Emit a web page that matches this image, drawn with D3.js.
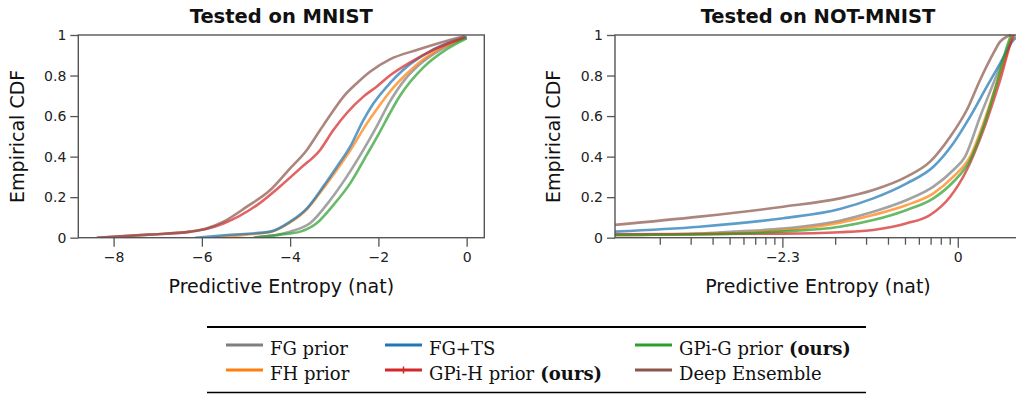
<!DOCTYPE html>
<html><head><meta charset="utf-8">
<script src="https://cdn.jsdelivr.net/npm/d3@7"></script>
<style>html,body{margin:0;padding:0;background:#fff;}svg{display:block;}</style>
</head><body>
<svg id="c" width="1016" height="394"></svg>
<script>
// ---------- DATA ----------
const seriesNames = ["FG prior", "FH prior", "FG+TS", "GPi-H prior", "GPi-G prior", "Deep Ensemble"];
const seriesColors = ["#7f7f7f", "#ff7f0e", "#1f77b4", "#d62728", "#2ca02c", "#8c564b"];

// Left panel: Tested on MNIST  ([x, cdf])
const mnistFG   = [[-4.83,0],[-4.0,0.03],[-3.55,0.071],[-3.09,0.186],[-2.72,0.30],[-2.34,0.433],[-2.04,0.548],[-1.74,0.671],[-1.4,0.78],[-1.06,0.855],[-0.53,0.935],[0,0.99]];
const mnistFH   = [[-5.77,0],[-5.0,0.015],[-4.45,0.028],[-4.0,0.075],[-3.62,0.14],[-3.25,0.243],[-2.94,0.335],[-2.64,0.43],[-2.26,0.564],[-2.0,0.645],[-1.74,0.72],[-1.4,0.80],[-0.95,0.885],[-0.45,0.95],[0,0.985]];
const mnistTS   = [[-6.15,0],[-5.5,0.012],[-4.45,0.03],[-4.0,0.079],[-3.62,0.145],[-3.25,0.252],[-2.94,0.35],[-2.64,0.449],[-2.34,0.58],[-2.11,0.663],[-1.74,0.762],[-1.44,0.827],[-0.98,0.90],[-0.45,0.959],[0,0.99]];
const mnistGPiH = [[-8.38,0],[-7.2,0.015],[-6.26,0.03],[-5.9,0.043],[-5.51,0.07],[-4.75,0.161],[-4.15,0.268],[-3.77,0.342],[-3.32,0.433],[-3.02,0.531],[-2.72,0.614],[-2.34,0.696],[-2.04,0.745],[-1.74,0.80],[-1.28,0.865],[-0.72,0.93],[-0.04,0.989]];
const mnistGPiG = [[-4.83,0],[-4.22,0.015],[-3.77,0.03],[-3.40,0.071],[-3.02,0.161],[-2.64,0.268],[-2.26,0.41],[-1.96,0.525],[-1.74,0.614],[-1.51,0.70],[-0.98,0.84],[-0.45,0.93],[0,0.984]];
const mnistDE   = [[-8.38,0],[-7.2,0.015],[-6.26,0.03],[-5.9,0.045],[-5.51,0.079],[-4.98,0.153],[-4.45,0.235],[-4.0,0.342],[-3.62,0.433],[-3.32,0.531],[-3.09,0.605],[-2.79,0.696],[-2.49,0.762],[-2.19,0.819],[-1.74,0.88],[-1.13,0.926],[-0.6,0.962],[-0.04,0.995]];

// Right panel: Tested on NOT-MNIST  ([ln entropy, cdf])
const notFG   = [[-4.5,0.013],[-3.4,0.02],[-2.95,0.03],[-2.3,0.045],[-1.547,0.084],[-1.109,0.128],[-0.67,0.186],[-0.32,0.252],[-0.058,0.334],[0.096,0.40],[0.293,0.597],[0.468,0.762],[0.644,0.926],[0.71,0.99],[0.73,1]];
const notFH   = [[-4.5,0.013],[-3.4,0.018],[-2.34,0.035],[-1.547,0.074],[-1.109,0.112],[-0.67,0.161],[-0.32,0.219],[-0.058,0.301],[0.162,0.40],[0.336,0.564],[0.512,0.762],[0.687,0.959],[0.72,1]];
const notTS   = [[-4.5,0.03],[-3.39,0.054],[-2.29,0.096],[-1.547,0.142],[-1.109,0.194],[-0.67,0.268],[-0.32,0.35],[-0.058,0.466],[0.162,0.597],[0.381,0.745],[0.556,0.86],[0.73,0.975],[0.83,1]];
const notGPiH = [[-4.5,0.017],[-2.3,0.02],[-1.547,0.027],[-1.109,0.038],[-0.67,0.071],[-0.364,0.112],[-0.10,0.202],[0.118,0.334],[0.336,0.531],[0.556,0.778],[0.73,0.99],[0.75,1]];
const notGPiG = [[-4.5,0.013],[-3.4,0.016],[-2.34,0.03],[-1.547,0.054],[-1.109,0.087],[-0.67,0.137],[-0.32,0.194],[-0.058,0.276],[0.162,0.383],[0.336,0.548],[0.512,0.762],[0.66,0.96],[0.7,1]];
const notDE   = [[-4.5,0.063],[-3.39,0.104],[-2.29,0.153],[-1.547,0.194],[-1.109,0.235],[-0.67,0.301],[-0.364,0.375],[-0.10,0.498],[0.118,0.63],[0.293,0.778],[0.468,0.91],[0.556,0.967],[0.644,0.992],[0.7,1]];

const mnistTicks = [-8, -6, -4, -2, 0];
const yTicks = [0, 0.2, 0.4, 0.6, 0.8, 1];
const notMajorTicks = [Math.log(0.1), 0];
const notMajorLabels = ["\u22122.3", "0"];
const notMinorTicks = [2,3,4,5,6,7,8,9].map(k => Math.log(k/100)).concat([2,3,4,5,6,7,8,9].map(k => Math.log(k/10)));

const panels = [
  {title: "Tested on MNIST", series: [mnistFG, mnistFH, mnistTS, mnistGPiH, mnistGPiG, mnistDE],
   xDomain: [-8.8, 0.4], left: 78.3, right: 484.3},
  {title: "Tested on NOT-MNIST", series: [notFG, notFH, notTS, notGPiH, notGPiG, notDE],
   xDomain: [-4.5, 0.83], left: 615, right: 1021}
];

// ---------- DRAW ----------
const svg = d3.select("#c");
const plotTop = 35, plotBottom = 237.7;
const sans = "'DejaVu Sans', sans-serif";
const serif = "'DejaVu Serif', serif";
const spine = "#555";

panels.forEach((p, i) => {
  const x = d3.scaleLinear().domain(p.xDomain).range([p.left, p.right]);
  const y = d3.scaleLinear().domain([0, 1]).range([plotBottom, plotTop]);
  const g = svg.append("g");
  const clipId = "clip" + i;
  svg.append("clipPath").attr("id", clipId).append("rect")
    .attr("x", p.left).attr("y", plotTop - 3).attr("width", p.right - p.left).attr("height", plotBottom - plotTop + 3);

  const line = d3.line().x(d => x(d[0])).y(d => y(d[1])).curve(d3.curveMonotoneX);
  const lg = g.append("g").attr("clip-path", `url(#${clipId})`);
  p.series.forEach((s, k) => {
    lg.append("path").datum(s).attr("d", line)
      .attr("fill", "none").attr("stroke", seriesColors[k])
      .attr("stroke-width", 2.6).attr("stroke-opacity", 0.72)
      .attr("stroke-linejoin", "round").attr("stroke-linecap", "butt");
  });

  // frame
  g.append("rect").attr("x", p.left).attr("y", plotTop).attr("width", p.right - p.left).attr("height", plotBottom - plotTop)
    .attr("fill", "none").attr("stroke", spine).attr("stroke-width", 1.4);

  // y axis
  const ya = d3.axisLeft(y).tickValues(yTicks).tickSize(8).tickPadding(4)
    .tickFormat(d => d === 0 ? "0" : d === 1 ? "1" : d3.format(".1f")(d));
  const yg = g.append("g").attr("transform", `translate(${p.left},0)`).call(ya);
  yg.select(".domain").remove();
  yg.selectAll(".tick line").attr("stroke", spine).attr("stroke-width", 1.3);
  yg.selectAll(".tick text").attr("font-family", sans).attr("font-size", 14).attr("fill", "#222");

  // x axis
  let xg;
  if (i === 0) {
    const xa = d3.axisBottom(x).tickValues(mnistTicks).tickSize(9).tickPadding(5)
      .tickFormat(d => d < 0 ? "\u2212" + Math.abs(d) : String(d));
    xg = g.append("g").attr("transform", `translate(0,${plotBottom})`).call(xa);
  } else {
    const xm = d3.axisBottom(x).tickValues(notMinorTicks).tickSize(7).tickFormat("");
    const xmg = g.append("g").attr("transform", `translate(0,${plotBottom})`).call(xm);
    xmg.select(".domain").remove();
    xmg.selectAll(".tick line").attr("stroke", spine).attr("stroke-width", 1.3);
    const xa = d3.axisBottom(x).tickValues(notMajorTicks).tickSize(10).tickPadding(4)
      .tickFormat((d, j) => notMajorLabels[j]);
    xg = g.append("g").attr("transform", `translate(0,${plotBottom})`).call(xa);
  }
  xg.select(".domain").remove();
  xg.selectAll(".tick line").attr("stroke", spine).attr("stroke-width", 1.3);
  xg.selectAll(".tick text").attr("font-family", sans).attr("font-size", 14).attr("fill", "#222");

  const cx = (p.left + p.right) / 2;
  g.append("text").attr("x", cx).attr("y", 22.5).attr("text-anchor", "middle")
    .attr("font-family", sans).attr("font-weight", "bold").attr("font-size", 19.5).attr("fill", "#111")
    .text(p.title);
  g.append("text").attr("x", cx).attr("y", 292.5).attr("text-anchor", "middle")
    .attr("font-family", sans).attr("font-size", 19).attr("fill", "#111")
    .text("Predictive Entropy (nat)");
  const ylx = i === 0 ? 24 : 560;
  g.append("text").attr("transform", `translate(${ylx},${(plotTop + plotBottom) / 2}) rotate(-90)`)
    .attr("text-anchor", "middle").attr("font-family", sans).attr("font-size", 19).attr("fill", "#111")
    .text("Empirical CDF");
});

// ---------- LEGEND ----------
const leg = svg.append("g");
leg.append("line").attr("x1", 207).attr("x2", 866).attr("y1", 327).attr("y2", 327).attr("stroke", "#000").attr("stroke-width", 2);
leg.append("line").attr("x1", 207).attr("x2", 866).attr("y1", 392.5).attr("y2", 392.5).attr("stroke", "#000").attr("stroke-width", 1.3);
const colX = [226, 385, 635];
const rowY = [345, 370];
const oursFlag = [false, false, false, true, true, false];
seriesNames.forEach((name, k) => {
  const col = Math.floor(k / 2), row = k % 2;
  const lx = colX[col], ly = rowY[row];
  leg.append("line").attr("x1", lx).attr("x2", lx + 37).attr("y1", ly).attr("y2", ly)
    .attr("stroke", seriesColors[k]).attr("stroke-width", 3);
  if (name === "GPi-H prior") {
    leg.append("line").attr("x1", lx + 18.5).attr("x2", lx + 18.5).attr("y1", ly - 3.5).attr("y2", ly + 3.5)
      .attr("stroke", seriesColors[k]).attr("stroke-width", 1.5);
  }
  const t = leg.append("text").attr("x", lx + 44).attr("y", ly + 10).attr("font-family", serif)
    .attr("font-size", 18).attr("fill", "#111");
  t.append("tspan").text(name);
  if (oursFlag[k]) t.append("tspan").attr("font-weight", "bold").text(" (ours)");
});
</script>
</body></html>
